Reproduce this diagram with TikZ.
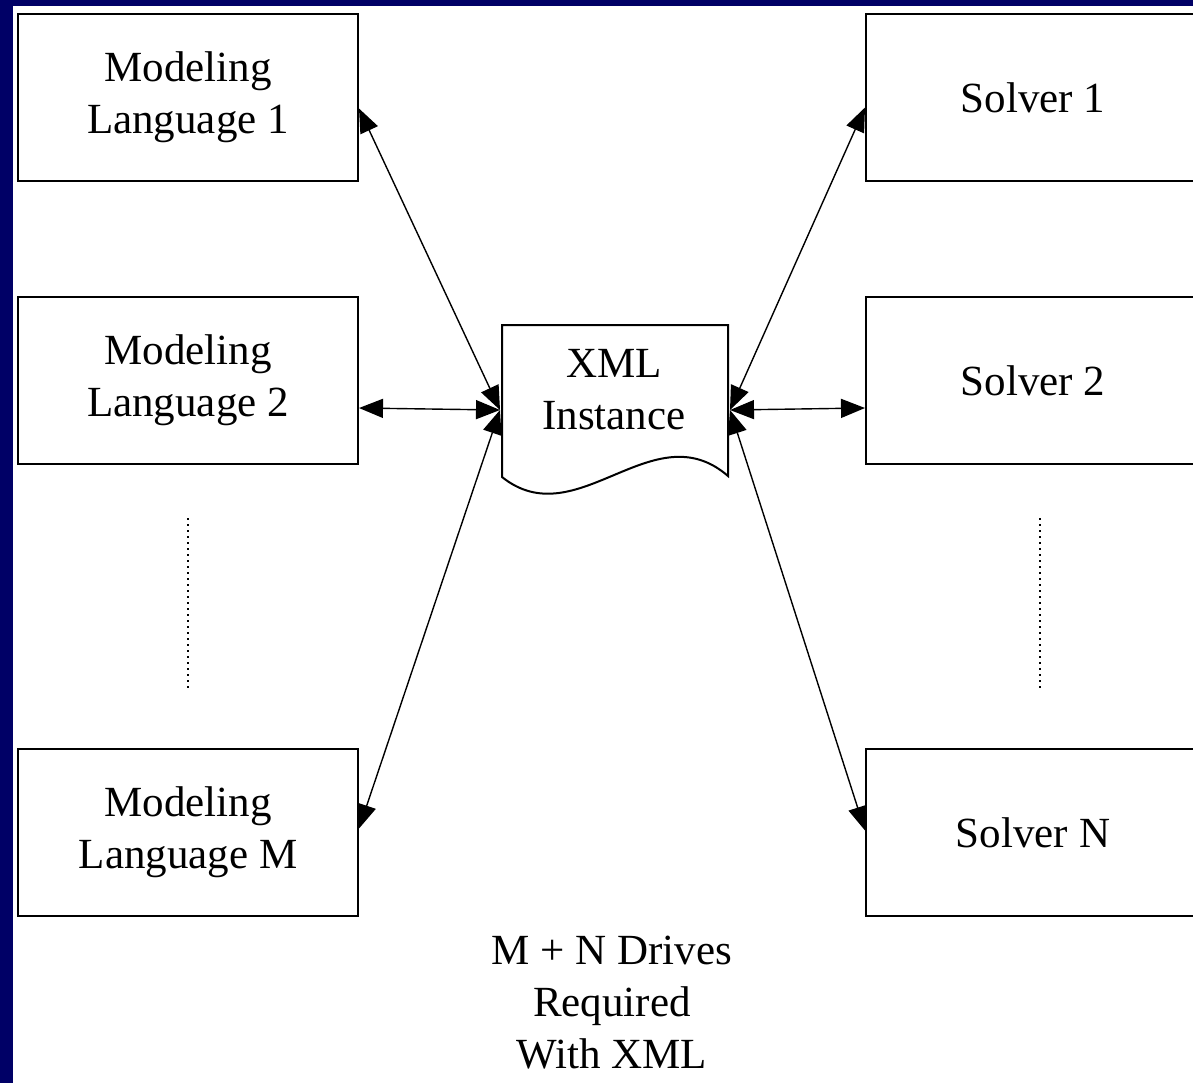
\documentclass[tikz,border=0pt]{standalone}
\usepackage{fontspec}
\setmainfont{Liberation Serif}
\usetikzlibrary{arrows.meta}
\definecolor{navyframe}{RGB}{0,0,102}
\tikzset{
  lbox/.style={draw, line width=1pt, minimum width=170pt, minimum height=83.5pt, inner sep=0pt, align=center, font=\fontsize{21.5}{26}\selectfont},
  rbox/.style={lbox, minimum width=167pt},
  link/.style={line width=0.7pt, {Triangle[length=12pt,width=9.5pt]}-{Triangle[length=12pt,width=9.5pt]}},
  dotline/.style={line width=0.8pt, dash pattern=on 1pt off 2pt},
  plain/.style={align=center, inner sep=0pt, font=\fontsize{21.5}{26}\selectfont}
}
\begin{document}
\begin{tikzpicture}[x=0.5pt,y=-0.5pt]
\useasboundingbox (0,0) rectangle (1193,1083);
\clip (0,0) rectangle (1193,1083);
\fill[white] (0,0) rectangle (1193,1083);
\fill[navyframe] (0,0) rectangle (13,1083);
\fill[navyframe] (0,0) rectangle (1193,6);

% left boxes
\node[lbox] (ml1) at (188,97.5) {Modeling\\Language 1};
\node[lbox] (ml2) at (188,380.5) {Modeling\\Language 2};
\node[lbox] (mlm) at (188,832.5) {Modeling\\Language M};
% right boxes
\node[rbox] (s1) at (1033,97.5) {Solver 1};
\node[rbox] (s2) at (1033,380.5) {Solver 2};
\node[rbox] (sn) at (1033,832.5) {Solver N};

% XML document
\draw[line width=1pt, fill=white] (502,325) -- (728,325) -- (728,476)
  .. controls (653,411) and (577,537) .. (502,477) -- cycle;
\node[plain] (xml) at (614,390) {XML\\Instance};
\coordinate (dl) at (500,410);
\coordinate (dr) at (730,410);

% connectors
\draw[link] ([yshift=-5.5pt]ml1.east) -- (dl);
\draw[link] (ml2.east |- 0,408) -- (dl);
\draw[link] ([yshift=2pt]mlm.east) -- (dl);
\draw[link] ([yshift=-5pt]s1.west) -- (dr);
\draw[link] (s2.west |- 0,408) -- (dr);
\draw[link] ([yshift=1pt]sn.west) -- (dr);

% dotted continuation lines
\draw[dotline] (188,518) -- (188,688);
\draw[dotline] (1040,518) -- (1040,688);

% caption
\node[plain] (cap) at (612,1003) {M + N Drives\\Required\\With XML};
\end{tikzpicture}
\end{document}
